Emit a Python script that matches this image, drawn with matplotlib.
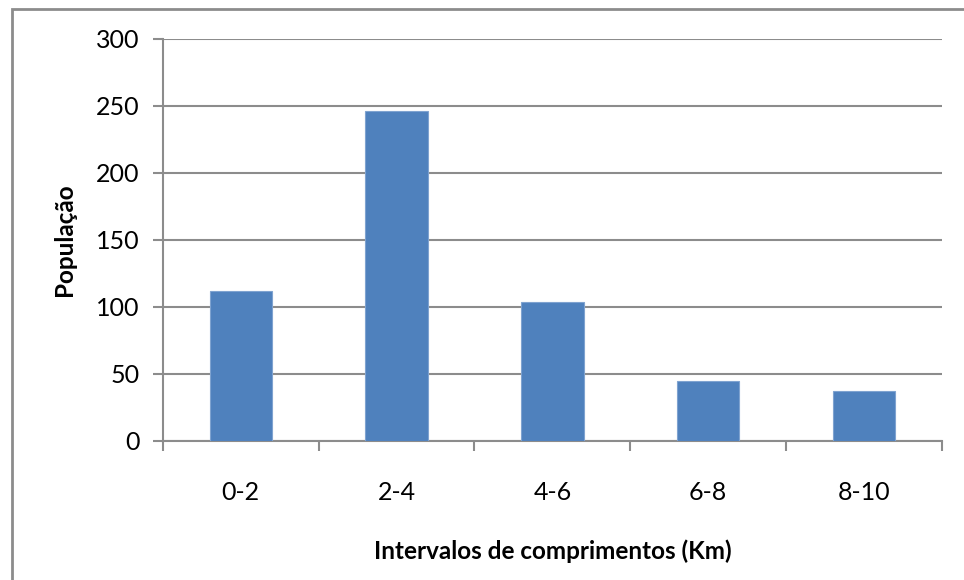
import matplotlib
matplotlib.use('Agg')
import matplotlib.pyplot as plt
from matplotlib.patches import Rectangle

# intervalos de comprimento e população em cada um
intervalos = ['0-2', '2-4', '4-6', '6-8', '8-10']
populacao = [112, 246, 104, 45, 37]

plt.rcParams['font.family'] = ['Lato', 'DejaVu Sans']

fig = plt.figure(figsize=(9.64, 5.8), dpi=100)
ax = fig.add_axes([0.169, 0.2397, 0.808, 0.6931])

# moldura externa do gráfico (só topo e esquerda aparecem)
fig.patches.append(Rectangle((12 / 964, -0.1), 1.2, 1 - 9 / 580 + 0.1,
                             transform=fig.transFigure, fill=False,
                             edgecolor='#8c8c8c', linewidth=2))

x = list(range(len(intervalos)))
ax.bar(x, populacao, width=0.4, color='#4f81bd', edgecolor='#7fa3d0',
       linewidth=0.8, zorder=3)

ax.set_xlim(-0.5, len(intervalos) - 0.5)
ax.set_ylim(0, 300)
ax.set_yticks(range(0, 301, 50))
ax.set_xticks(x)
ax.set_xticklabels(intervalos)
ax.yaxis.grid(True, color='#8c8c8c', linewidth=1.5, zorder=0)

# marcas do eixo x entre as categorias
ax.set_xticks([i - 0.5 for i in range(len(intervalos) + 1)], minor=True)
ax.tick_params(axis='x', which='major', length=0, pad=29, labelsize=18)
ax.tick_params(axis='x', which='minor', length=7, width=1.5, color='#8c8c8c',
               direction='out')
ax.tick_params(axis='y', length=7, width=1.5, color='#8c8c8c', pad=10,
               labelsize=18)

for s in ['top', 'right']:
    ax.spines[s].set_visible(False)
for s in ['left', 'bottom']:
    ax.spines[s].set_color('#8c8c8c')
    ax.spines[s].set_linewidth(1.5)

ax.set_xlabel('Intervalos de comprimentos (Km)', fontsize=17.5,
              fontweight='bold', labelpad=25)
ax.set_ylabel('População', fontsize=17.5, fontweight='bold', labelpad=14)

fig.savefig('out.png', dpi=100)
